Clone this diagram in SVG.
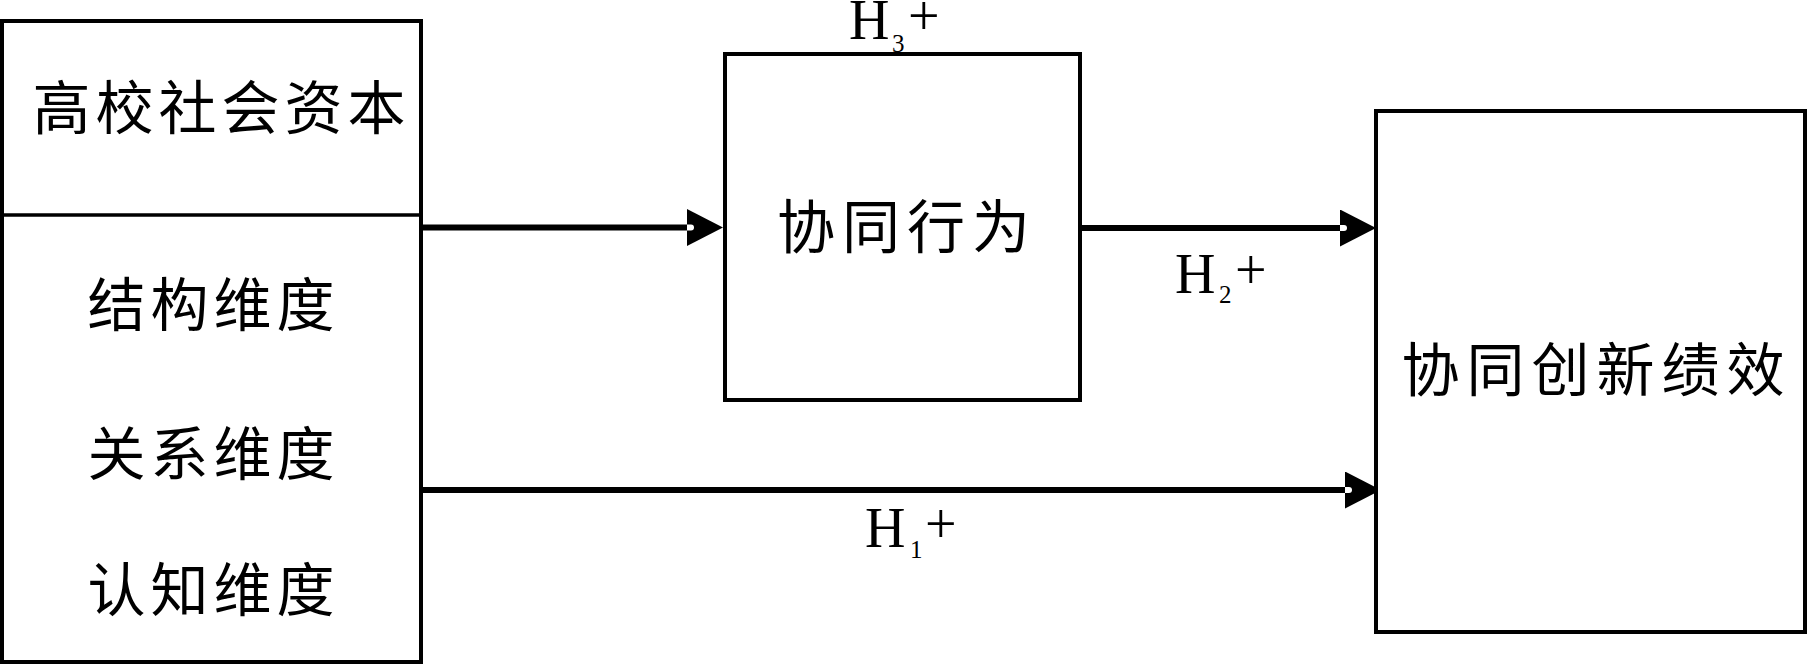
<svg xmlns="http://www.w3.org/2000/svg" width="1808" height="665" viewBox="0 0 1808 665">
<style>
.box{fill:#fff;stroke:#000;stroke-width:4}
.cjk{font-family:"Liberation Serif","Noto Sans CJK SC",serif;font-size:58px;fill:#000;dominant-baseline:central;text-anchor:middle;letter-spacing:5px}
.lat{font-family:"Liberation Serif",serif;font-size:56px;fill:#000}
.sub{font-family:"Liberation Serif",serif;font-size:25px;fill:#000}
.conn{stroke:#000;stroke-width:6;fill:none;marker-end:url(#arr)}
</style>
<defs>
<marker id="arr" markerUnits="userSpaceOnUse" viewBox="0 0 36 37" markerWidth="36" markerHeight="37" refX="24" refY="18.5" orient="auto">
<path d="M0,0 L36,18.5 L0,37 Z" fill="#000"/>
<path d="M0,15.5 h4 a3,3 0 0 1 0,6 h-4 z" fill="#fff"/>
</marker>
</defs>
<rect width="1808" height="665" fill="#fff"/>
<g id="connectors">
<line class="conn" x1="421" y1="227.5" x2="711" y2="227.5"/>
<line class="conn" x1="1080" y1="228" x2="1364" y2="228"/>
<line class="conn" x1="421" y1="490" x2="1369" y2="490"/>
</g>
<g id="node-social-capital">
<rect class="box" x="2" y="21" width="419" height="641"/>
<line x1="0" y1="215" x2="421" y2="215" stroke="#000" stroke-width="3.5"/>
<text class="cjk" x="221.5" y="109">高校社会资本</text>
<text class="cjk" x="213.5" y="306">结构维度</text>
<text class="cjk" x="213.5" y="455">关系维度</text>
<text class="cjk" x="213.5" y="591">认知维度</text>
</g>
<g id="node-behavior">
<rect class="box" x="725" y="54" width="355" height="346"/>
<text class="cjk" x="907" y="228" style="letter-spacing:7px">协同行为</text>
</g>
<g id="node-performance">
<rect class="box" x="1376" y="111" width="429" height="521"/>
<text class="cjk" x="1596.5" y="371" style="letter-spacing:7px">协同创新绩效</text>
</g>
<g id="labels">
<text class="lat" x="849" y="39">H</text><text class="sub" x="892" y="52">3</text><text class="lat" x="908" y="35">+</text>
<text class="lat" x="1175" y="293">H</text><text class="sub" x="1219" y="303">2</text><text class="lat" x="1235" y="289">+</text>
<text class="lat" x="865" y="547">H</text><text class="sub" x="910" y="558">1</text><text class="lat" x="925" y="543">+</text>
</g>
</svg>
